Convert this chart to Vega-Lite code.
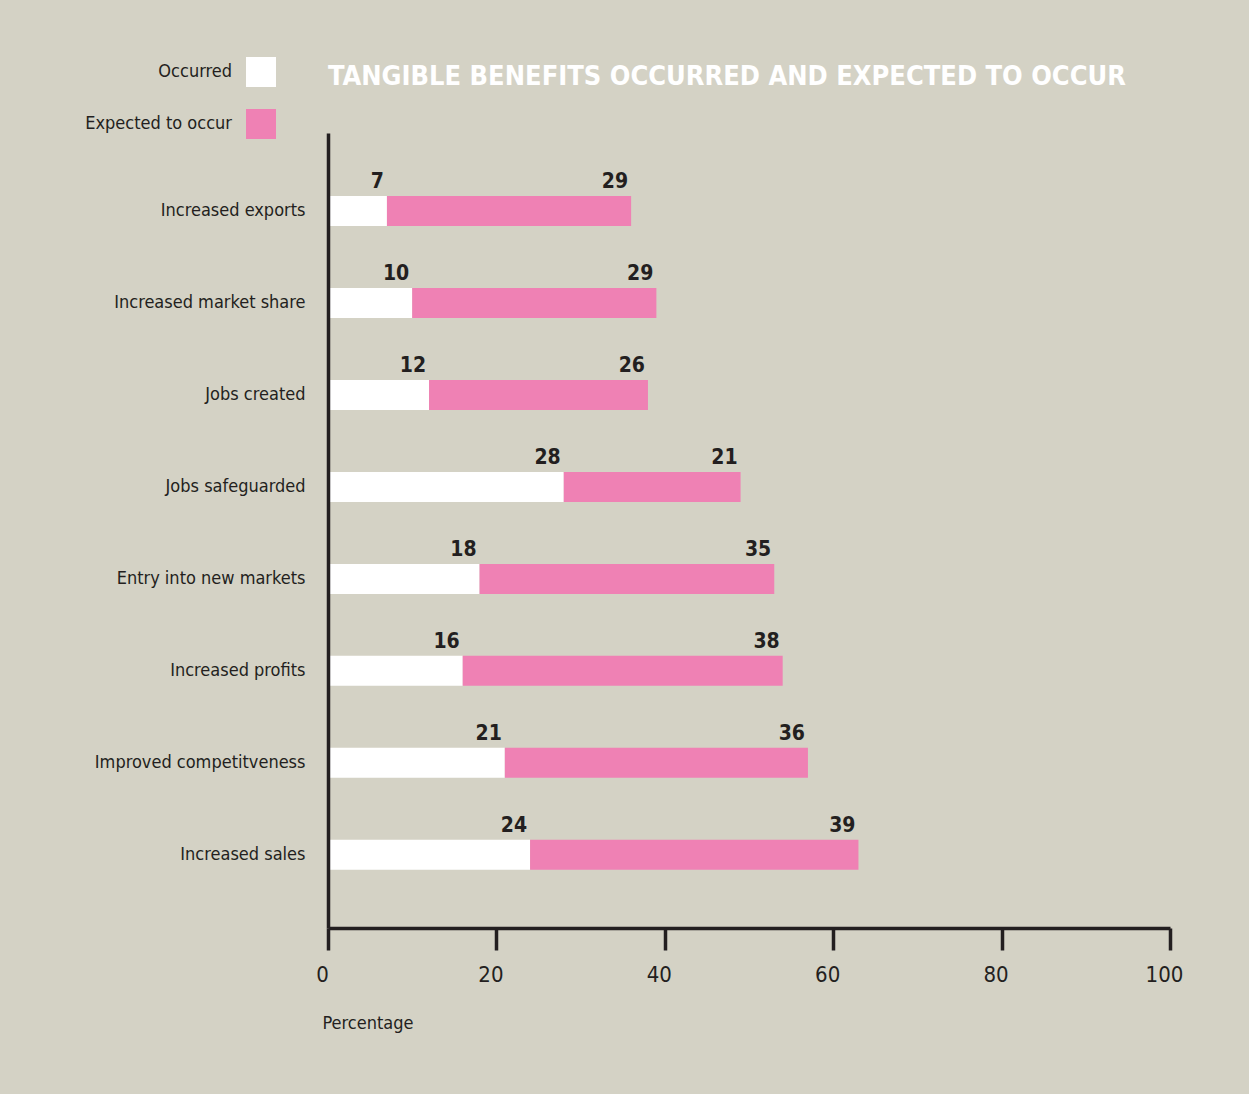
{
  "$schema": "https://vega.github.io/schema/vega-lite/v6.json",
  "autosize": {"type": "none"},
  "padding": {"left": 328, "top": 133, "right": 79, "bottom": 166},
  "width": 842,
  "height": 795,
  "background": "#d4d2c5",
  "title": {
    "text": "TANGIBLE BENEFITS OCCURRED AND EXPECTED TO OCCUR",
    "anchor": "start",
    "frame": "group",
    "color": "#ffffff",
    "font": "DejaVu Sans Condensed, Liberation Sans, sans-serif",
    "fontSize": 27,
    "fontWeight": "bold",
    "baseline": "alphabetic",
    "offset": -55
  },
  "config": {"view": {"stroke": null}, "font": "DejaVu Sans Condensed, Liberation Sans, sans-serif"},
  "data": {
    "values": [
      {"benefit": "Increased exports", "type": "Occurred", "value": 7},
      {"benefit": "Increased exports", "type": "Expected to occur", "value": 29},
      {"benefit": "Increased market share", "type": "Occurred", "value": 10},
      {"benefit": "Increased market share", "type": "Expected to occur", "value": 29},
      {"benefit": "Jobs created", "type": "Occurred", "value": 12},
      {"benefit": "Jobs created", "type": "Expected to occur", "value": 26},
      {"benefit": "Jobs safeguarded", "type": "Occurred", "value": 28},
      {"benefit": "Jobs safeguarded", "type": "Expected to occur", "value": 21},
      {"benefit": "Entry into new markets", "type": "Occurred", "value": 18},
      {"benefit": "Entry into new markets", "type": "Expected to occur", "value": 35},
      {"benefit": "Increased profits", "type": "Occurred", "value": 16},
      {"benefit": "Increased profits", "type": "Expected to occur", "value": 38},
      {"benefit": "Improved competitveness", "type": "Occurred", "value": 21},
      {"benefit": "Improved competitveness", "type": "Expected to occur", "value": 36},
      {"benefit": "Increased sales", "type": "Occurred", "value": 24},
      {"benefit": "Increased sales", "type": "Expected to occur", "value": 39}
    ]
  },
  "transform": [
    {"stack": "value", "groupby": ["benefit"], "sort": [{"field": "type", "order": "descending"}], "as": ["start", "end"]}
  ],
  "encoding": {
    "y": {
      "field": "benefit",
      "type": "nominal",
      "sort": ["Increased exports", "Increased market share", "Jobs created", "Jobs safeguarded", "Entry into new markets", "Increased profits", "Improved competitveness", "Increased sales"],
      "scale": {"paddingInner": 0.674, "paddingOuter": 0.66, "align": 0.52},
      "axis": {
        "title": null,
        "zindex": 1,
        "domainColor": "#231f20",
        "domainWidth": 3.5,
        "ticks": false,
        "labelPadding": 23,
        "labelFontSize": 18,
        "labelColor": "#231f20",
        "labelLimit": 300
      }
    }
  },
  "layer": [
    {
      "mark": {"type": "bar", "strokeWidth": 0},
      "encoding": {
        "x": {
          "field": "start",
          "type": "quantitative",
          "scale": {"domain": [0, 100], "nice": false},
          "axis": {
            "title": "Percentage",
            "values": [0, 20, 40, 60, 80, 100],
            "grid": false,
            "zindex": 1,
            "domainColor": "#231f20",
            "domainWidth": 3.5,
            "tickColor": "#231f20",
            "tickWidth": 3.5,
            "tickSize": 22,
            "labelPadding": 14,
            "labelFontSize": 22,
            "labelColor": "#231f20",
            "labelOffset": -6,
            "labelFlush": false,
            "titleFontSize": 18,
            "titleFontWeight": "normal",
            "titleColor": "#231f20",
            "titleAnchor": "start",
            "titleAlign": "left",
            "titleX": -6,
            "titleY": 100,
            "titleBaseline": "alphabetic"
          }
        },
        "x2": {"field": "end"},
        "color": {
          "field": "type",
          "type": "nominal",
          "scale": {"domain": ["Occurred", "Expected to occur"], "range": ["#ffffff", "#ef81b4"]},
          "legend": {
            "title": null,
            "orient": "none",
            "legendX": -82,
            "legendY": -76,
            "symbolType": "square",
            "symbolSize": 900,
            "symbolStrokeWidth": 0,
            "symbolOpacity": 1,
            "labelAlign": "right",
            "labelOffset": -44,
            "labelFontSize": 18,
            "labelColor": "#231f20",
            "labelLimit": 300,
            "rowPadding": 22,
            "padding": 0
          }
        }
      }
    },
    {
      "mark": {"type": "text", "align": "right", "baseline": "alphabetic", "dx": -3, "dy": -23, "fontSize": 21, "fontWeight": "bold", "color": "#231f20"},
      "encoding": {
        "x": {"field": "end", "type": "quantitative"},
        "text": {"field": "value", "type": "quantitative", "format": "d"}
      }
    }
  ]
}
